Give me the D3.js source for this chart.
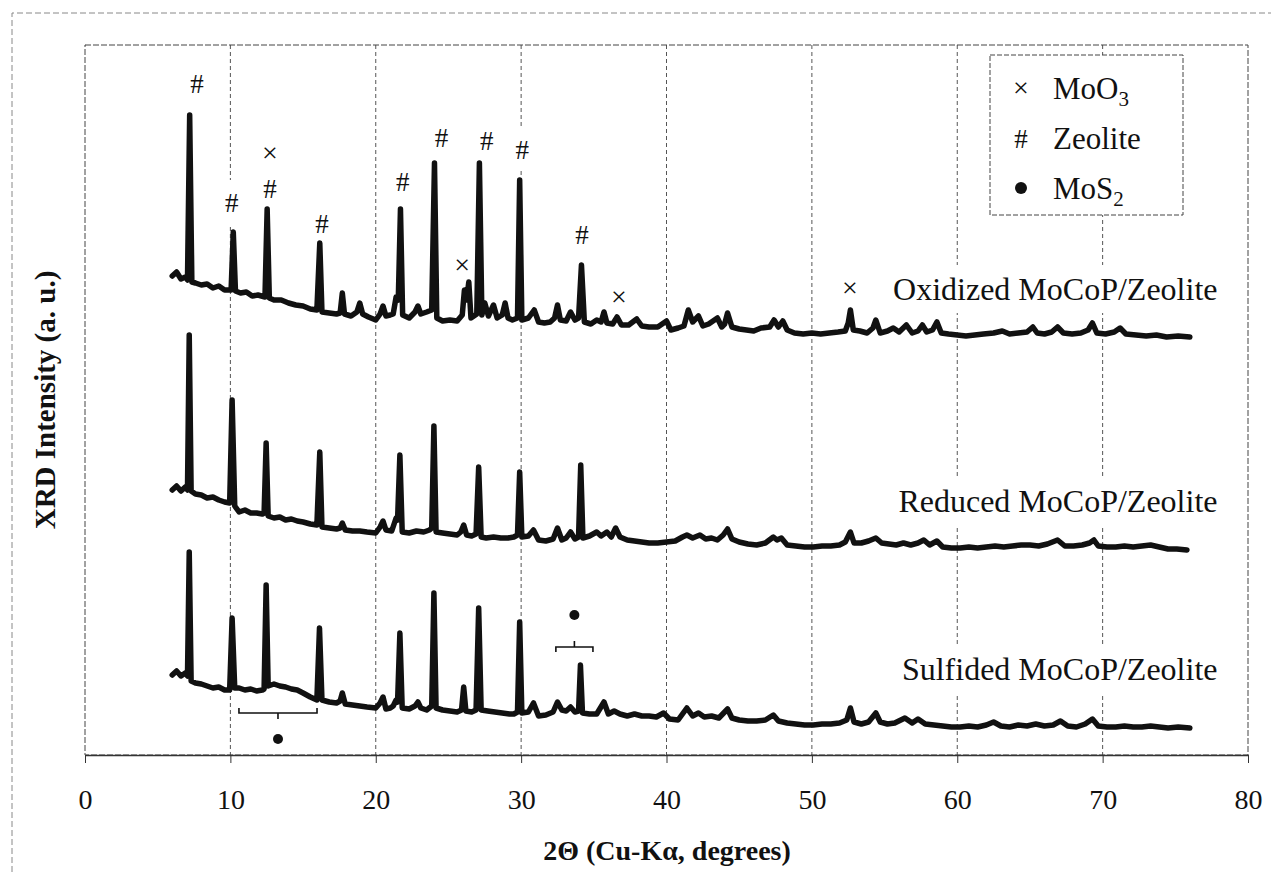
<!DOCTYPE html>
<html>
<head>
<meta charset="utf-8">
<script src="https://cdn.jsdelivr.net/npm/d3@7"></script>
<style>
    body { margin: 0; background: #fff; }
    svg text { font-family: "Liberation Serif", "Times New Roman", serif; fill: #111; }
</style>
</head>
<body>
<svg id="chart" width="1271" height="872"></svg>
<script>
/*
Values: [2theta (deg), intensity (a.u.)]
 */
const xTicks = [0, 10, 20, 30, 40, 50, 60, 70, 80];

const oxidized = [
    [6.0, 479], [6.3, 483], [6.6, 476], [6.9, 478], [7.05, 475], [7.2, 640], [7.35, 473], [7.6, 472], [8.0, 470],
    [8.4, 471], [8.8, 467], [9.2, 469], [9.6, 465], [10.05, 465], [10.2, 523], [10.35, 464], [10.7, 462], [11.1, 463],
    [11.5, 459], [11.9, 460], [12.38, 458], [12.53, 546], [12.68, 457], [13.0, 455], [13.5, 455], [14.0, 452],
    [14.5, 450], [15.0, 449], [15.5, 446], [15.95, 445], [16.15, 512], [16.3, 443], [16.8, 442], [17.3, 441],
    [17.55, 442], [17.7, 462], [17.85, 441], [18.3, 439], [18.7, 443], [18.9, 452], [19.1, 441], [19.5, 438],
    [20.0, 435], [20.3, 441], [20.5, 449], [20.7, 439], [21.0, 440], [21.2, 441], [21.4, 458], [21.55, 455],
    [21.7, 546], [21.85, 440], [22.3, 437], [22.7, 443], [22.9, 449], [23.1, 441], [23.5, 443], [23.85, 445],
    [24.04, 592], [24.2, 437], [24.6, 434], [25.1, 435], [25.6, 434], [25.95, 440], [26.1, 465], [26.25, 455],
    [26.4, 473], [26.55, 437], [26.95, 441], [27.13, 592], [27.3, 440], [27.5, 452], [27.75, 439], [28.1, 450],
    [28.35, 437], [28.7, 440], [28.9, 452], [29.1, 437], [29.4, 435], [29.75, 437], [29.9, 575], [30.05, 435],
    [30.5, 437], [30.9, 445], [31.2, 433], [31.6, 432], [32.0, 433], [32.3, 437], [32.5, 450], [32.7, 435],
    [33.1, 434], [33.4, 443], [33.7, 435], [33.95, 437], [34.15, 490], [34.35, 433], [34.8, 431], [35.2, 435],
    [35.5, 433], [35.7, 443], [35.9, 432], [36.3, 431], [36.6, 438], [36.9, 430], [37.4, 430], [37.95, 436],
    [38.3, 429], [38.8, 428], [39.4, 428], [40.0, 434], [40.3, 425], [40.8, 427], [41.2, 429], [41.5, 445],
    [41.8, 433], [42.2, 439], [42.5, 429], [42.9, 431], [43.5, 437], [43.8, 428], [44.0, 431], [44.2, 442],
    [44.5, 428], [45.0, 426], [45.5, 425], [46.0, 424], [46.5, 427], [47.1, 428], [47.4, 435], [47.7, 428],
    [48.0, 434], [48.3, 425], [48.8, 422], [49.4, 421], [50.0, 422], [50.6, 421], [51.2, 422], [51.8, 423],
    [52.3, 424], [52.5, 432], [52.65, 445], [52.85, 425], [53.3, 424], [53.8, 422], [54.2, 427], [54.4, 435],
    [54.7, 422], [55.2, 424], [55.6, 427], [56.0, 423], [56.5, 430], [56.9, 422], [57.3, 424], [57.6, 430],
    [57.9, 423], [58.3, 425], [58.6, 433], [58.9, 422], [59.4, 421], [60.0, 420], [60.6, 419], [61.2, 420],
    [61.8, 421], [62.5, 422], [63.1, 424], [63.6, 421], [64.2, 422], [64.8, 423], [65.2, 428], [65.5, 422],
    [66.0, 421], [66.5, 423], [66.9, 428], [67.3, 422], [67.9, 421], [68.5, 422], [69.0, 425], [69.3, 432],
    [69.6, 422], [70.2, 421], [70.8, 423], [71.2, 427], [71.6, 421], [72.3, 420], [73.0, 419], [73.7, 420],
    [74.4, 418], [75.2, 419], [76.0, 418]
];

const reduced = [
    [6.0, 265], [6.3, 269], [6.6, 264], [6.9, 268], [7.05, 265], [7.17, 420], [7.3, 264], [7.6, 261], [8.0, 260],
    [8.4, 257], [8.8, 258], [9.2, 255], [9.6, 253], [9.95, 252], [10.12, 355], [10.3, 249], [10.6, 243], [11.0, 245],
    [11.4, 242], [11.8, 242], [12.2, 241], [12.32, 242], [12.46, 312], [12.6, 239], [13.0, 237], [13.4, 238],
    [13.8, 235], [14.2, 236], [14.6, 234], [15.0, 233], [15.5, 231], [15.95, 230], [16.15, 303], [16.3, 228],
    [16.8, 227], [17.3, 226], [17.55, 227], [17.7, 232], [17.9, 225], [18.4, 224], [18.9, 224], [19.4, 223],
    [20.0, 222], [20.3, 228], [20.5, 234], [20.7, 225], [21.1, 224], [21.4, 237], [21.5, 235], [21.66, 300],
    [21.82, 223], [22.3, 222], [22.8, 224], [23.3, 223], [23.7, 225], [23.85, 227], [24.0, 329], [24.15, 223],
    [24.6, 222], [25.1, 221], [25.6, 220], [25.85, 223], [26.05, 230], [26.25, 220], [26.6, 219], [26.9, 221],
    [27.08, 288], [27.25, 218], [27.6, 217], [28.1, 218], [28.6, 217], [29.1, 217], [29.5, 218], [29.75, 220],
    [29.9, 283], [30.05, 218], [30.5, 219], [30.85, 225], [31.2, 215], [31.7, 214], [32.2, 216], [32.5, 227],
    [32.8, 215], [33.1, 217], [33.4, 223], [33.7, 216], [33.95, 218], [34.1, 290], [34.25, 217], [34.7, 219],
    [35.2, 223], [35.5, 219], [35.9, 223], [36.2, 218], [36.5, 227], [36.8, 218], [37.3, 215], [37.8, 214],
    [38.3, 213], [38.8, 212], [39.4, 212], [40.0, 213], [40.6, 214], [41.1, 218], [41.4, 220], [41.8, 217],
    [42.3, 220], [42.7, 216], [43.1, 217], [43.5, 215], [43.9, 220], [44.2, 226], [44.5, 216], [45.0, 213],
    [45.6, 211], [46.2, 210], [46.8, 212], [47.35, 218], [47.6, 215], [47.9, 217], [48.3, 210], [48.9, 209],
    [49.5, 208], [50.1, 208], [50.7, 209], [51.3, 209], [51.9, 210], [52.3, 213], [52.65, 223], [52.9, 212],
    [53.4, 212], [53.9, 214], [54.4, 217], [54.8, 212], [55.3, 211], [55.8, 210], [56.3, 212], [56.8, 210],
    [57.3, 212], [57.7, 215], [58.1, 210], [58.6, 214], [59.0, 208], [59.6, 207], [60.2, 207], [60.8, 208],
    [61.4, 207], [62.0, 208], [62.6, 209], [63.2, 208], [63.8, 209], [64.4, 210], [65.0, 210], [65.6, 209],
    [66.2, 211], [66.9, 215], [67.4, 209], [68.0, 209], [68.6, 210], [69.1, 212], [69.4, 215], [69.7, 209],
    [70.3, 208], [70.9, 208], [71.5, 209], [72.1, 208], [72.7, 209], [73.3, 210], [73.9, 208], [74.5, 206],
    [75.1, 206], [75.8, 205]
];

const sulfided = [
    [6.0, 80], [6.3, 84], [6.6, 79], [6.9, 82], [7.05, 79], [7.17, 203], [7.3, 74], [7.6, 72], [8.0, 71], [8.4, 69],
    [8.8, 67], [9.2, 68], [9.6, 65], [9.95, 65], [10.12, 137], [10.3, 67], [10.6, 67], [11.0, 65], [11.4, 66],
    [11.8, 64], [12.2, 65], [12.32, 66], [12.46, 170], [12.6, 69], [13.0, 71], [13.4, 69], [13.8, 68], [14.2, 66],
    [14.6, 65], [15.0, 62], [15.5, 58], [15.95, 55], [16.13, 127], [16.3, 55], [16.8, 53], [17.3, 52], [17.55, 54],
    [17.7, 62], [17.9, 51], [18.4, 50], [18.9, 49], [19.4, 48], [20.0, 47], [20.3, 52], [20.5, 58], [20.7, 46],
    [21.0, 47], [21.2, 49], [21.4, 55], [21.5, 53], [21.66, 122], [21.82, 47], [22.3, 46], [22.7, 49], [22.9, 53],
    [23.1, 47], [23.5, 45], [23.85, 49], [24.0, 162], [24.15, 47], [24.6, 45], [25.1, 44], [25.6, 43], [25.9, 45],
    [26.05, 68], [26.2, 44], [26.6, 43], [26.9, 45], [27.08, 147], [27.25, 45], [27.7, 44], [28.2, 43], [28.7, 42],
    [29.2, 41], [29.5, 41], [29.75, 43], [29.9, 133], [30.05, 42], [30.5, 43], [30.85, 52], [31.2, 39], [31.7, 40],
    [32.2, 43], [32.5, 53], [32.8, 45], [33.1, 44], [33.4, 48], [33.7, 43], [33.95, 44], [34.08, 90], [34.22, 42],
    [34.7, 41], [35.2, 41], [35.7, 53], [36.0, 41], [36.4, 44], [36.8, 41], [37.3, 39], [37.8, 41], [38.3, 39],
    [38.8, 39], [39.3, 38], [39.8, 42], [40.2, 36], [40.8, 35], [41.4, 47], [41.8, 39], [42.2, 42], [42.6, 38],
    [43.1, 39], [43.6, 37], [44.2, 46], [44.5, 37], [45.0, 35], [45.6, 34], [46.2, 34], [46.8, 35], [47.35, 40],
    [47.7, 34], [48.3, 32], [48.9, 31], [49.5, 30], [50.1, 30], [50.7, 31], [51.3, 31], [51.9, 32], [52.4, 35],
    [52.65, 47], [52.9, 33], [53.4, 31], [53.9, 33], [54.4, 42], [54.7, 33], [55.2, 31], [55.7, 32], [56.4, 37],
    [56.9, 32], [57.3, 36], [57.8, 31], [58.4, 30], [59.0, 29], [59.6, 28], [60.2, 28], [60.8, 29], [61.4, 28],
    [62.0, 30], [62.5, 33], [63.0, 29], [63.6, 28], [64.2, 30], [64.8, 29], [65.4, 31], [66.0, 29], [66.6, 30],
    [67.1, 34], [67.6, 29], [68.2, 28], [68.8, 31], [69.3, 36], [69.7, 29], [70.3, 28], [70.9, 28], [71.5, 29],
    [72.1, 28], [72.7, 28], [73.3, 29], [73.9, 28], [74.5, 27], [75.2, 28], [76.0, 27]
];

// sample names, anchored at their right end
const seriesLabels = [
    {name: 'Oxidized MoCoP/Zeolite', x: 77.9, y: 455},
    {name: 'Reduced MoCoP/Zeolite', x: 77.9, y: 243},
    {name: 'Sulfided MoCoP/Zeolite', x: 77.9, y: 75}
];

// phase marks above the peaks (# zeolite, x MoO3)
const peakMarks = [
    {sym: '#', x: 7.7, y: 672}, {sym: '#', x: 10.09, y: 553}, {sym: '×', x: 12.72, y: 602},
    {sym: '#', x: 12.72, y: 567}, {sym: '#', x: 16.3, y: 532}, {sym: '#', x: 21.85, y: 574},
    {sym: '#', x: 24.53, y: 618}, {sym: '×', x: 25.95, y: 490}, {sym: '#', x: 27.63, y: 615},
    {sym: '#', x: 30.08, y: 606}, {sym: '#', x: 34.18, y: 521}, {sym: '×', x: 36.73, y: 458},
    {sym: '×', x: 52.61, y: 467}
];

// MoS2 brackets on the sulfided pattern
const brackets = [
    {from: 10.59, to: 15.96, y: 42, dir: -1, dot: 16},
    {from: 32.39, to: 34.94, y: 108, dir: 1, dot: 140}
];

const legendItems = [
    {sym: '×', text: 'MoO', sub: '3'},
    {sym: '#', text: 'Zeolite', sub: ''},
    {sym: 'dot', text: 'MoS', sub: '2'}
];

const svg = d3.select('#chart');
const serif = '"Liberation Serif", "Times New Roman", serif';

// outer frame of the scanned figure
svg.append('path')
    .attr('d', 'M12,872 L12,13 L1271,13')
    .attr('fill', 'none')
    .attr('stroke', '#888')
    .attr('stroke-dasharray', '6,3');

const x = d3.scaleLinear().domain([0, 80]).range([85, 1248]);
const y = d3.scaleLinear().domain([0, 710]).range([755, 45]);

// Grid lines
svg.append('g')
    .selectAll('line')
    .data(xTicks.slice(1, -1))
    .join('line')
    .attr('x1', d => x(d)).attr('x2', d => x(d))
    .attr('y1', y(710)).attr('y2', y(0))
    .attr('stroke', '#555')
    .attr('stroke-dasharray', '4,3');

// plot frame
svg.append('rect')
    .attr('x', x(0)).attr('y', y(710))
    .attr('width', x(80) - x(0)).attr('height', y(0) - y(710))
    .attr('fill', 'none')
    .attr('stroke', '#444')
    .attr('stroke-dasharray', '6,2');

// Axis
const axis = d3.axisBottom(x).tickValues(xTicks).tickSize(8).tickSizeOuter(0).tickPadding(26);
const gx = svg.append('g')
    .attr('transform', 'translate(0,' + y(0) + ')')
    .call(axis)
    .attr('font-family', serif)
    .attr('font-size', 28);
gx.select('.domain').attr('stroke', '#333').attr('stroke-width', 1.3);
gx.selectAll('.tick line').attr('stroke', '#333');
gx.selectAll('.tick text')
    .style('font-family', serif)
    .style('font-size', '28px')
    .attr('fill', '#111');

// Axis titles
svg.append('text')
    .attr('x', 667).attr('y', 860)
    .attr('text-anchor', 'middle')
    .style('font-size', '28px').style('font-weight', 'bold')
    .text('2Θ (Cu-Kα, degrees)');

svg.append('text')
    .attr('transform', 'translate(55,400) rotate(-90)')
    .attr('text-anchor', 'middle')
    .style('font-size', '29px').style('font-weight', 'bold')
    .text('XRD Intensity (a. u.)');

// white boxes behind the text boxes (they hide the grid)
const boxes = svg.append('g');

const line = d3.line().x(d => x(d[0])).y(d => y(d[1]));

// Draw the three patterns
svg.append('g')
    .selectAll('path')
    .data([oxidized, reduced, sulfided])
    .join('path')
    .attr('d', line)
    .attr('fill', 'none')
    .attr('stroke', '#111')
    .attr('stroke-width', 5.5)
    .attr('stroke-linejoin', 'round')
    .attr('stroke-linecap', 'round');

// peak marks
peakMarks.forEach(m => {
    boxes.append('rect')
        .attr('x', x(m.x) - 12).attr('y', y(m.y) - 22)
        .attr('width', 24).attr('height', 44)
        .attr('fill', '#fff');
    svg.append('text')
        .attr('x', x(m.x)).attr('y', y(m.y))
        .attr('text-anchor', 'middle')
        .attr('dy', m.sym === '#' ? '0.36em' : '0.33em')
        .style('font-size', m.sym === '#' ? '27px' : '28px')
        .text(m.sym);
});

// sample labels
seriesLabels.forEach(s => {
    const t = svg.append('text')
        .attr('x', x(s.x)).attr('y', y(s.y))
        .attr('text-anchor', 'end')
        .style('font-size', '32px')
        .text(s.name);
    const b = t.node().getBBox();
    boxes.append('rect')
        .attr('x', b.x - 8).attr('y', b.y - 6)
        .attr('width', b.width + 16).attr('height', b.height + 12)
        .attr('fill', '#fff');
});

// MoS2 brackets
brackets.forEach(b => {
    const mid = (b.from + b.to) / 2;
    svg.append('path')
        .attr('d', 'M' + x(b.from) + ',' + (y(b.y) + 5 * b.dir) +
            ' L' + x(b.from) + ',' + y(b.y) +
            ' L' + x(b.to) + ',' + y(b.y) +
            ' L' + x(b.to) + ',' + (y(b.y) + 5 * b.dir) +
            ' M' + x(mid) + ',' + y(b.y) +
            ' L' + x(mid) + ',' + (y(b.y) - 6 * b.dir))
        .attr('fill', 'none')
        .attr('stroke', '#111')
        .attr('stroke-width', 1.6);
    svg.append('circle')
        .attr('cx', x(mid)).attr('cy', y(b.dot))
        .attr('r', 5)
        .attr('fill', '#111');
});

// Legend
const lg = svg.append('g').attr('transform', 'translate(990,55)');
lg.append('rect')
    .attr('width', 193).attr('height', 160)
    .attr('fill', '#fff')
    .attr('stroke', '#444')
    .attr('stroke-dasharray', '5,2');

const items = lg.selectAll('g.item')
    .data(legendItems)
    .join('g')
    .attr('class', 'item')
    .attr('transform', (d, i) => 'translate(0,' + (36 + i * 50) + ')');

items.filter(d => d.sym === 'dot').append('circle')
    .attr('cx', 31).attr('cy', -3).attr('r', 6).attr('fill', '#111');
items.filter(d => d.sym !== 'dot').append('text')
    .attr('x', 31).attr('dy', d => d.sym === '#' ? '0.36em' : '0.33em')
    .attr('y', -3)
    .attr('text-anchor', 'middle')
    .style('font-size', d => d.sym === '#' ? '27px' : '28px')
    .text(d => d.sym);

const lt = items.append('text')
    .attr('x', 63).attr('y', 8)
    .style('font-size', '31px');
lt.append('tspan').text(d => d.text);
lt.append('tspan')
    .attr('dy', 7)
    .style('font-size', '21px')
    .text(d => d.sub);
</script>
</body>
</html>
